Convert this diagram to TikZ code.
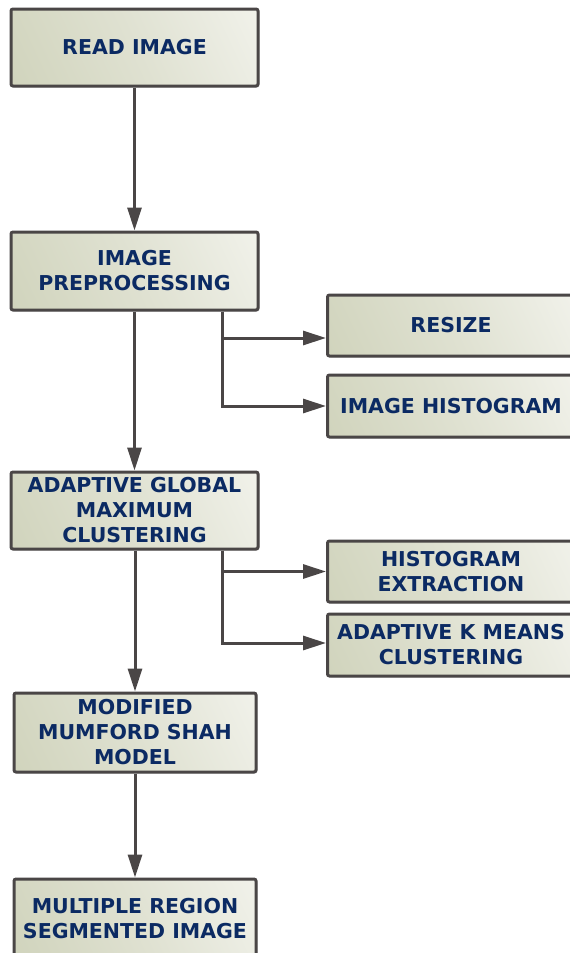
\documentclass[tikz,border=0pt]{standalone}
\usepackage{fontspec}
\setmainfont{DejaVu Sans}
\usetikzlibrary{arrows.meta,shadows}

\definecolor{boxline}{HTML}{4A4646}
\definecolor{boxdark}{HTML}{C9CDB2}
\definecolor{boxmid}{HTML}{DFE1D1}
\definecolor{boxlight}{HTML}{FAFAF7}
\definecolor{boxtext}{HTML}{0B2A63}

\pgfdeclarehorizontalshading{boxshade}{100bp}{color(0bp)=(boxdark); color(50bp)=(boxmid); color(100bp)=(boxlight)}

\tikzset{
	stage/.style={draw=boxline, line width=3pt, rounded corners=2pt,
		shading=boxshade, shading angle=25,
		drop shadow={shadow xshift=1.5pt, shadow yshift=-1.5pt, opacity=0.25},
		minimum width=247pt, minimum height=77pt, inner sep=0pt,
		align=center, text=boxtext,
		font=\bfseries\fontsize{20.5}{25}\selectfont},
	flow/.style={draw=boxline, line width=3pt,
		-{Triangle[length=23pt,width=14pt]}},
}

\begin{document}
\begin{tikzpicture}[x=1pt, y=-1pt]
	\useasboundingbox (0,0) rectangle (570,953);
	\clip (0,0) rectangle (570,953);

	%% Main column
	\node [stage] (read) at (134.5,47.5) {READ IMAGE};
	\node [stage, minimum height=78pt] (prep) at (134.5,271) {IMAGE\\PREPROCESSING};
	\node [stage] (agmc) at (134.5,510.5) {ADAPTIVE GLOBAL\\MAXIMUM\\CLUSTERING};
	\node [stage, minimum width=242pt, minimum height=79pt] (mumford) at (135,732.5) {MODIFIED\\MUMFORD SHAH\\MODEL};
	\node [stage, minimum width=242pt, minimum height=80pt] (segmented) at (135,919) {MULTIPLE REGION\\SEGMENTED IMAGE};

	%% Side steps
	\node [stage, minimum height=61pt] (resize) at (451,325.5) {RESIZE};
	\node [stage, minimum height=62pt] (histogram) at (451,406) {IMAGE HISTOGRAM};
	\node [stage, minimum height=61pt] (extraction) at (451,571.5) {HISTOGRAM\\EXTRACTION};
	\node [stage, minimum height=62pt] (kmeans) at (451,645) {ADAPTIVE K MEANS\\CLUSTERING};

	%% Arrows down the column
	\draw [flow] (read) -- (prep);
	\draw [flow] (prep) -- (agmc);
	\draw [flow] ([xshift=0.5pt]agmc.south) -- ([xshift=0.5pt]agmc.south |- mumford.north);
	\draw [flow] (mumford) -- (segmented);

	%% Branches to the side steps
	\draw [flow] ([xshift=87.5pt]prep.south) |- ([yshift=-12.5pt]resize.west);
	\draw [flow] ([xshift=87.5pt]prep.south) |- (histogram.west);
	\draw [flow] ([xshift=87.5pt]agmc.south) |- (extraction.west);
	\draw [flow] ([xshift=87.5pt]agmc.south) |- ([yshift=2pt]kmeans.west);
\end{tikzpicture}
\end{document}
